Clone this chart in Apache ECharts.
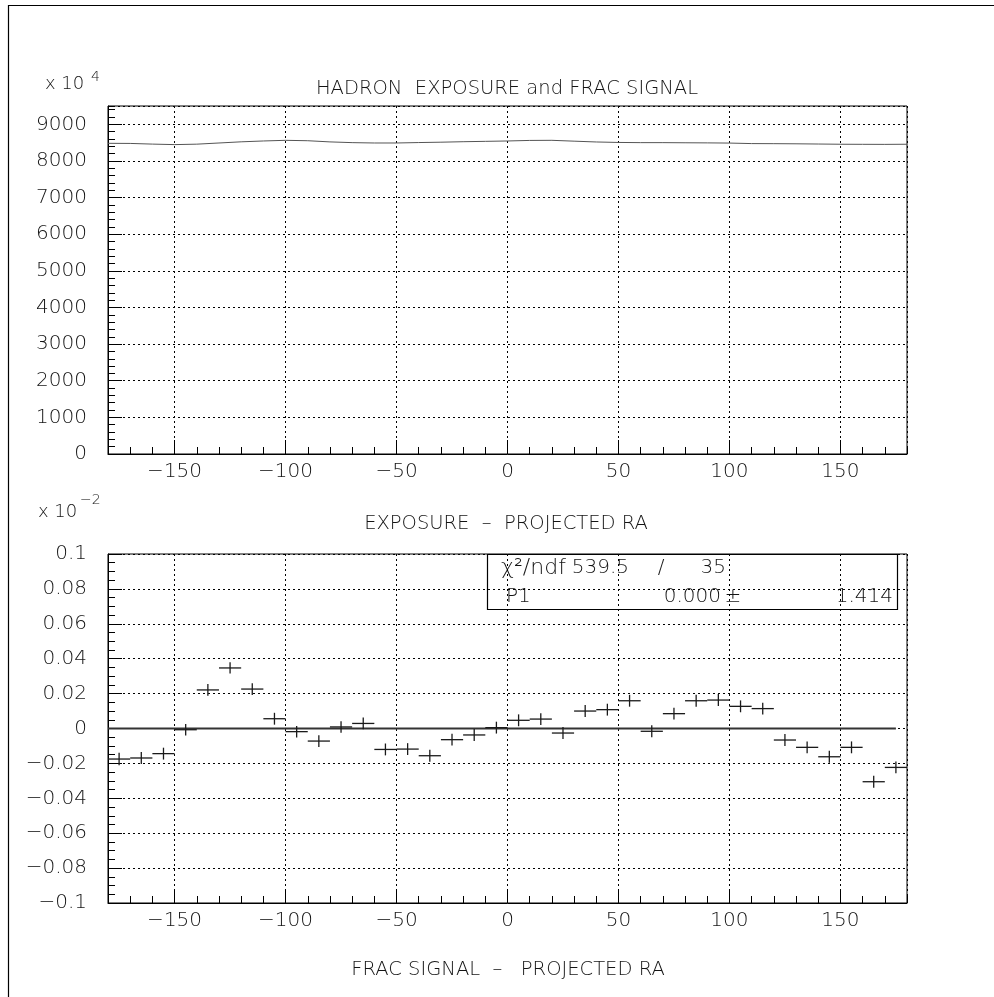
<!DOCTYPE html>
<html>
<head>
<meta charset="utf-8">
<script src="https://cdn.jsdelivr.net/npm/echarts@6/dist/echarts.min.js"></script>
<style>
  html, body { margin: 0; padding: 0; background: #fff; }
  #chart { width: 994px; height: 997px; }
</style>
</head>
<body>
<div id="chart"></div>
<script>
// Hadron exposure along projected RA (axis in units of 10^4)
const exposureRA = [-180, -170, -160, -150, -140, -130, -120, -110, -100, -90, -80, -70, -60, -50, -40, -30, -20, -10,
  0, 10, 20, 30, 40, 50, 60, 70, 80, 90, 100, 110, 120, 130, 140, 150, 160, 170, 180];
const exposureValues = [8481, 8478, 8460, 8446, 8458, 8490, 8522, 8545, 8563, 8552, 8520, 8500, 8490, 8490, 8502, 8512, 8525, 8535,
  8545, 8560, 8563, 8540, 8518, 8505, 8500, 8500, 8496, 8493, 8488, 8474, 8472, 8468, 8462, 8456, 8454, 8452, 8456];

// Fractional signal per 10-degree RA bin (axis in units of 10^-2)
const signalRA = [-175, -165, -155, -145, -135, -125, -115, -105, -95, -85, -75, -65, -55, -45, -35, -25, -15, -5,
  5, 15, 25, 35, 45, 55, 65, 75, 85, 95, 105, 115, 125, 135, 145, 155, 165, 175];
const signalValues = [-0.0175, -0.0169, -0.0144, -0.0007, 0.0221, 0.0347, 0.0226, 0.0056, -0.0018, -0.0072, 0.0009, 0.0029,
  -0.0120, -0.0118, -0.0156, -0.0064, -0.0037, 0.0005, 0.0047, 0.0054, -0.0026, 0.0100, 0.0108, 0.0159,
  -0.0016, 0.0085, 0.0159, 0.0163, 0.0127, 0.0114, -0.0066, -0.0108, -0.0162, -0.0108, -0.0305, -0.0223];
const signalErrors = [0.0036, 0.0034, 0.0034, 0.0033, 0.0034, 0.0032, 0.0034, 0.0034, 0.0033, 0.0034, 0.0033, 0.0034,
  0.0034, 0.0034, 0.0034, 0.0034, 0.0034, 0.0034, 0.0034, 0.0034, 0.0034, 0.0034, 0.0034, 0.0034,
  0.0034, 0.0034, 0.0034, 0.0034, 0.0034, 0.0034, 0.0034, 0.0034, 0.0034, 0.0034, 0.0034, 0.0034];
const binHalfWidth = 5;

// Constant fit P1 drawn across the fitted range
const fitRA = [-180, 175];
const fitP1 = 0.000;
const fitP1Error = 1.414;
const chi2 = 539.5;
const ndf = 35;

const titles = {
  top: 'HADRON  EXPOSURE and FRAC SIGNAL',
  mid: 'EXPOSURE  \u2013  PROJECTED RA',
  bottom: 'FRAC SIGNAL  \u2013   PROJECTED RA'
};

const FONT = '"DejaVu Sans", Verdana, sans-serif';
const WEIGHT = 200;
const INK = '#141414';

function fmtSigned(v) {
  const n = Number(v.toFixed(4));
  const s = String(Math.abs(n));
  return n < 0 ? '\u2212' + s : s;
}

const gridLine = { show: true, lineStyle: { color: '#000', type: [2, 3], width: 1 } };
const labelStyle = { color: INK, fontFamily: FONT, fontWeight: WEIGHT, fontSize: 20 };

function majorX(gridIndex) {
  return {
    type: 'value', gridIndex, position: 'bottom', min: -180, max: 180, splitNumber: 7,
    axisLine: { show: true, onZero: false, lineStyle: { color: '#000', width: 1 } },
    axisTick: { show: true, inside: true, length: 14, lineStyle: { color: '#000', width: 1 } },
    axisLabel: Object.assign({ margin: 8, showMinLabel: false, showMaxLabel: false, formatter: fmtSigned }, labelStyle),
    splitLine: gridLine
  };
}
function minorX(gridIndex) {
  return {
    type: 'value', gridIndex, position: 'bottom', min: -180, max: 180, interval: 10,
    axisLine: { show: false, onZero: false },
    axisTick: { show: true, inside: true, length: 7, lineStyle: { color: '#000', width: 1 } },
    axisLabel: { show: false }, splitLine: { show: false }
  };
}
function majorY(gridIndex, min, max, interval, showMax, formatter) {
  return {
    type: 'value', gridIndex, position: 'left', min, max, interval,
    axisLine: { show: true, onZero: false, lineStyle: { color: '#000', width: 1 } },
    axisTick: { show: true, inside: true, length: 14, lineStyle: { color: '#000', width: 1 } },
    axisLabel: Object.assign({ margin: 21, showMaxLabel: showMax, formatter }, labelStyle),
    splitLine: gridLine
  };
}
function minorY(gridIndex, min, max, interval) {
  return {
    type: 'value', gridIndex, position: 'left', min, max, interval,
    axisLine: { show: false, onZero: false },
    axisTick: { show: true, inside: true, length: 7, lineStyle: { color: '#000', width: 1 } },
    axisLabel: { show: false }, splitLine: { show: false }
  };
}

const chart = echarts.init(document.getElementById('chart'), null, { renderer: 'canvas' });

const tf = (size) => WEIGHT + ' ' + size + 'px ' + FONT;
const txt = (x, y, text, size, align) => ({
  type: 'text', x, y,
  style: { text, font: tf(size), fill: INK, align: align || 'left', verticalAlign: 'middle' }
});

chart.setOption({
  animation: false,
  backgroundColor: '#fff',
  grid: [
    { left: 108, top: 106, width: 799, height: 348, show: true, borderColor: '#000', borderWidth: 1, backgroundColor: 'transparent' },
    { left: 108, top: 554, width: 799, height: 349, show: true, borderColor: '#000', borderWidth: 1, backgroundColor: 'transparent' }
  ],
  xAxis: [majorX(0), minorX(0), majorX(1), minorX(1)],
  yAxis: [
    majorY(0, 0, 9500, 1000, false, (v) => (v > 9000 ? '' : String(v))),
    minorY(0, 0, 9500, 200),
    majorY(1, -0.1, 0.1, 0.02, true, fmtSigned),
    minorY(1, -0.1, 0.1, 0.005)
  ],
  series: [
    {
      type: 'line', xAxisIndex: 0, yAxisIndex: 0, symbol: 'none',
      data: exposureRA.map((x, i) => [x, exposureValues[i]]),
      lineStyle: { color: '#555', width: 1 }
    },
    {
      type: 'line', xAxisIndex: 2, yAxisIndex: 2, symbol: 'none', z: 2,
      data: fitRA.map((x) => [x, fitP1]),
      lineStyle: { color: '#333', width: 2 }
    },
    {
      type: 'custom', xAxisIndex: 2, yAxisIndex: 2, z: 3,
      data: signalRA.map((x, i) => [x, signalValues[i], signalErrors[i]]),
      renderItem(params, api) {
        const x = api.value(0), y = api.value(1), e = api.value(2);
        const l = api.coord([x - binHalfWidth, y]);
        const r = api.coord([x + binHalfWidth, y]);
        const t = api.coord([x, y + e]);
        const b = api.coord([x, y - e]);
        const st = { stroke: '#1a1a1a', lineWidth: 1.3 };
        return {
          type: 'group',
          children: [
            { type: 'line', shape: { x1: l[0], y1: l[1], x2: r[0], y2: r[1] }, style: st },
            { type: 'line', shape: { x1: t[0], y1: t[1], x2: b[0], y2: b[1] }, style: st }
          ]
        };
      }
    }
  ],
  graphic: [
    // page frame
    { type: 'rect', shape: { x: 8.5, y: 5.5, width: 1000, height: 1000 }, style: { fill: 'none', stroke: '#000', lineWidth: 1.2 }, silent: true },
    // axis multipliers
    txt(45, 84, 'x 10', 18),
    txt(91, 77, '4', 14),
    txt(38, 512, 'x 10', 18),
    txt(80, 500, '\u22122', 14),
    // titles
    txt(507, 89, titles.top, 19.5, 'center'),
    txt(506, 524, titles.mid, 19.5, 'center'),
    txt(508, 970, titles.bottom, 19.5, 'center'),
    // fit statistics box
    { type: 'rect', shape: { x: 487.5, y: 554.5, width: 410, height: 55 }, style: { fill: 'none', stroke: '#000', lineWidth: 1.2 }, silent: true },
    txt(501, 568, '\u03c7\u00b2/ndf', 22),
    txt(629, 568, chi2.toFixed(1), 20, 'right'),
    txt(661, 568, '/', 20, 'center'),
    txt(726, 568, String(ndf), 20, 'right'),
    txt(506, 597, 'P1', 20),
    txt(721, 597, fitP1.toFixed(3), 20, 'right'),
    txt(733, 597, '\u00b1', 20, 'center'),
    txt(893, 597, fitP1Error.toFixed(3), 20, 'right')
  ]
});
</script>
</body>
</html>
